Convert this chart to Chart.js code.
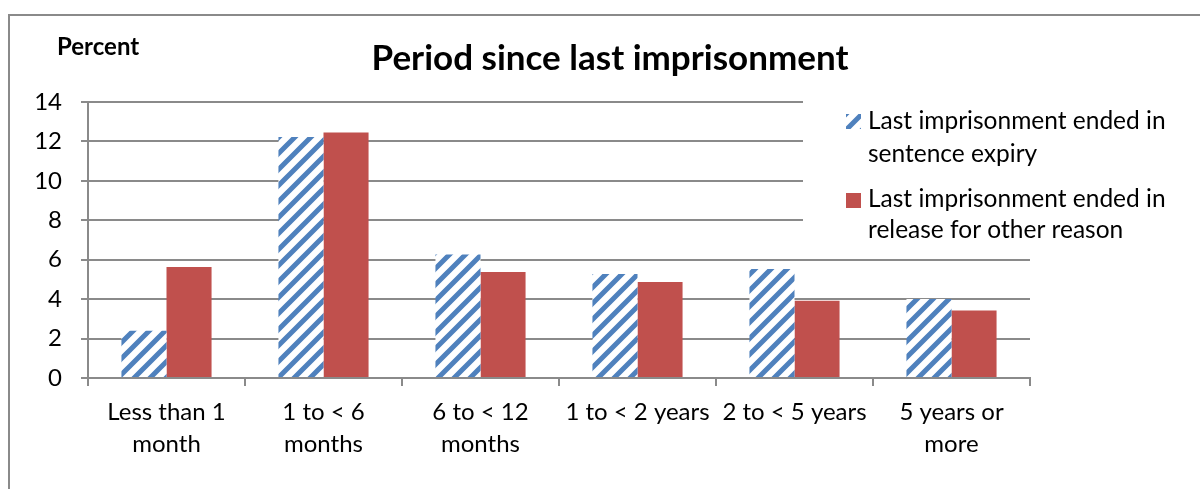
<!DOCTYPE html>
<html>
<head>
<meta charset="utf-8">
<script src="https://cdn.jsdelivr.net/npm/chart.js@4"></script>
<style>
  html, body { margin: 0; padding: 0; background: #fff; }
  #wrap { position: relative; width: 1200px; height: 489px; }
</style>
</head>
<body>
<div id="wrap"><canvas id="periodChart" width="1200" height="489"></canvas></div>
<script>
// data
var categories = [
    ['Less than 1', 'month'],
    ['1 to < 6', 'months'],
    ['6 to < 12', 'months'],
    ['1 to < 2 years'],
    ['2 to < 5 years'],
    ['5 years or', 'more']
];
var sentenceExpiry = [2.4, 12.23, 6.26, 5.28, 5.53, 4.01];
var otherRelease = [5.63, 12.45, 5.38, 4.87, 3.92, 3.42];
var yTicks = [0, 2, 4, 6, 8, 10, 12, 14];
var seriesNames = [
    ['Last imprisonment ended in', 'sentence expiry'],
    ['Last imprisonment ended in', 'release for other reason']
];

var FONT = 'Lato, "Open Sans", sans-serif';
var BLUE = '#4F81BD';
var RED = '#C0504D';
var GRID = '#8a8a8a';

// wide upward diagonal stripes like the excel pattern fill
function stripes(ctx, color) {
    var c = document.createElement('canvas');
    c.width = 16; c.height = 16;
    var g = c.getContext('2d');
    g.fillStyle = '#fff';
    g.fillRect(0, 0, 16, 16);
    g.strokeStyle = color;
    g.lineWidth = 5;
    g.beginPath();
    g.moveTo(-4, 20); g.lineTo(20, -4);
    g.moveTo(-4, 4); g.lineTo(4, -4);
    g.moveTo(12, 20); g.lineTo(20, 12);
    g.stroke();
    return ctx.createPattern(c, 'repeat');
}

// frame, title, "Percent" and the legend box
var decorations = {
    id: 'decorations',
    beforeDraw: function(chart) {
        var ctx = chart.ctx;
        ctx.save();
        ctx.fillStyle = '#fff';
        ctx.fillRect(0, 0, chart.width, chart.height);
        ctx.strokeStyle = GRID;
        ctx.lineWidth = 2;
        ctx.strokeRect(9, 15, 1300, 600);
        ctx.restore();
    },
    afterDraw: function(chart) {
        var ctx = chart.ctx;
        ctx.save();
        ctx.fillStyle = '#000';
        ctx.textBaseline = 'alphabetic';
        ctx.font = 'bold 35px ' + FONT;
        ctx.textAlign = 'center';
        ctx.fillText('Period since last imprisonment', 610, 70);
        ctx.font = 'bold 24px ' + FONT;
        ctx.textAlign = 'left';
        ctx.fillText('Percent', 57, 55);

        // legend
        ctx.fillStyle = '#fff';
        ctx.fillRect(803, 92, 390, 158);
        var swatchY = [114, 193];
        var lineY = [[129, 162], [207, 238]];
        var fills = [stripes(ctx, BLUE), RED];
        ctx.font = '24.5px ' + FONT;
        for (var i = 0; i < 2; i++) {
            ctx.fillStyle = fills[i];
            ctx.fillRect(846, swatchY[i], 15, 15);
            ctx.fillStyle = '#000';
            ctx.fillText(seriesNames[i][0], 868, lineY[i][0]);
            ctx.fillText(seriesNames[i][1], 868, lineY[i][1]);
        }
        ctx.restore();
    }
};

var ctx = document.getElementById('periodChart').getContext('2d');

var chart = new Chart(ctx, {
    type: 'bar',
    data: {
        labels: categories,
        datasets: [{
            label: seriesNames[0].join(' '),
            data: sentenceExpiry,
            backgroundColor: stripes(ctx, BLUE),
            borderWidth: 0
        }, {
            label: seriesNames[1].join(' '),
            data: otherRelease,
            backgroundColor: RED,
            borderWidth: 0
        }]
    },
    options: {
        responsive: false,
        animation: false,
        devicePixelRatio: 1,
        layout: { padding: { left: 0, right: 170, top: 102, bottom: 0 } },
        categoryPercentage: 0.574,
        barPercentage: 1,
        plugins: {
            legend: { display: false },
            title: { display: false },
            tooltip: { enabled: false }
        },
        scales: {
            x: {
                afterFit: function(s) { s.height = 111; },
                grid: {
                    display: true,
                    drawOnChartArea: false,
                    drawTicks: true,
                    tickLength: 8,
                    offset: true,
                    color: GRID,
                    lineWidth: 2
                },
                border: { display: true, color: GRID, width: 2 },
                ticks: {
                    color: '#000',
                    font: { family: FONT, size: 24, lineHeight: 1.33 },
                    padding: 10,
                    maxRotation: 0,
                    autoSkip: false
                }
            },
            y: {
                min: 0,
                max: 14,
                afterFit: function(s) { s.width = 88; },
                afterBuildTicks: function(s) {
                    s.ticks = yTicks.map(function(v) { return { value: v }; });
                },
                grid: {
                    color: GRID,
                    lineWidth: 2,
                    drawTicks: true,
                    tickLength: 7
                },
                border: { display: true, color: GRID, width: 2 },
                ticks: {
                    color: '#000',
                    font: { family: FONT, size: 24 },
                    padding: 19
                }
            }
        }
    },
    plugins: [decorations]
});
</script>
</body>
</html>
